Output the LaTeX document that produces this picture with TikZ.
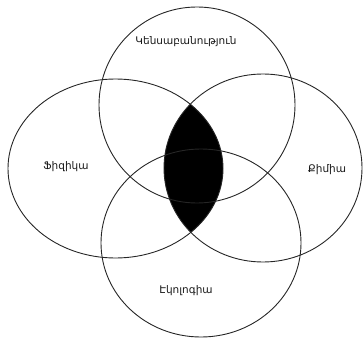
\documentclass[tikz,border=0pt]{standalone}
\usepackage{fontspec}
\setmainfont{DejaVu Sans}
\begin{document}
\begin{tikzpicture}[x=1pt,y=-1pt,
    ring/.style={line width=0.9pt, black!85},
    lbl/.style={font=\fontsize{10.5}{12}\selectfont, black!90}]
  \useasboundingbox (0,0) rectangle (363,339);
  % black lens: physics and chemistry
  \begin{scope}
    \clip (115.5,168.5) ellipse [x radius=107.5, y radius=89.5];
    \fill (263,168) ellipse [x radius=99, y radius=94];
  \end{scope}
  \foreach \x/\y/\rx/\ry in {197/105/98/98, 115.5/168.5/107.5/89.5,
                             263/168/99/94, 201/243/100/94}
    \draw[ring] (\x,\y) ellipse [x radius=\rx, y radius=\ry];
  \node[lbl] (bio)  at (186,42)  {Կենսաբանություն};
  \node[lbl] (phys) at (66,167)  {Ֆիզիկա};
  \node[lbl] (chem) at (327,170) {Քիմիա};
  \node[lbl] (eco)  at (186,291) {Էկոլոգիա};
\end{tikzpicture}
\end{document}
